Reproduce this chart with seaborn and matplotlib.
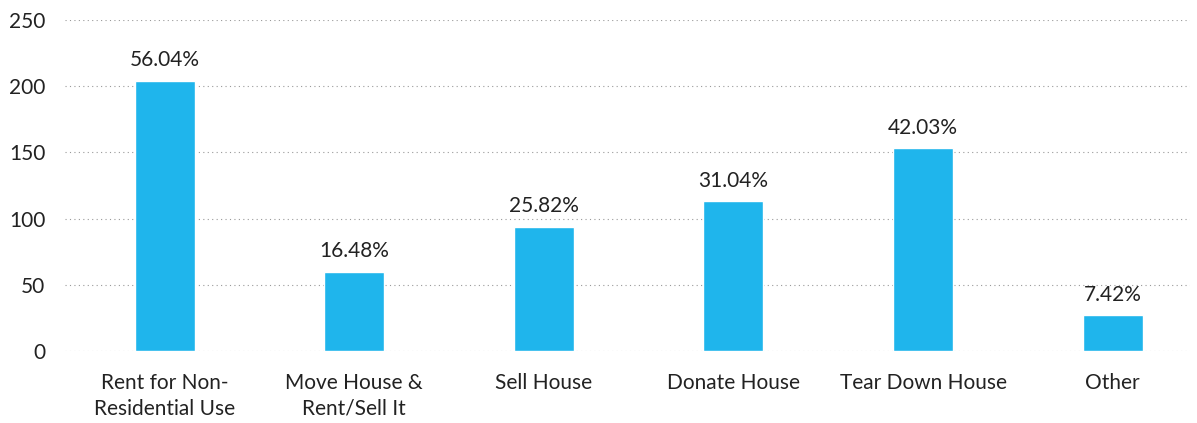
import matplotlib
matplotlib.use('Agg')
import matplotlib.pyplot as plt
import seaborn as sns
import pandas as pd

categories = ['Rent for Non-\nResidential Use', 'Move House &\nRent/Sell It', 'Sell House',
              'Donate House', 'Tear Down House', 'Other']
counts = [204, 60, 94, 113, 153, 27]
total = 364
pct_labels = ['56.04%', '16.48%', '25.82%', '31.04%', '42.03%', '7.42%']

sns.set_style('white')
plt.rcParams['font.family'] = ['Lato', 'DejaVu Sans']

df = pd.DataFrame({'cat': categories, 'n': counts})

fig = plt.figure(figsize=(11.97, 4.23), dpi=100)
ax = fig.add_axes([0.054, 0.170, 0.940, 0.783])
sns.barplot(data=df, x='cat', y='n', color='#1fb5ec', saturation=1, width=0.316, ax=ax, zorder=3)

for i, (v, lab) in enumerate(zip(counts, pct_labels)):
    ax.text(i, v + 8, lab, ha='center', va='bottom', fontsize=15, color='#222222')

ax.set_ylim(0, 250)
ax.set_yticks(range(0, 251, 50))
ax.set_xlim(-0.527, 5.407)
ax.yaxis.grid(True, linestyle=(0, (1, 3)), color='#999999', linewidth=0.8, zorder=0)
ax.set_xlabel('')
ax.set_ylabel('')
for s in ax.spines.values():
    s.set_visible(False)
ax.tick_params(axis='both', length=0, labelsize=15, colors='#222222')
ax.tick_params(axis='x', pad=16)
ax.tick_params(axis='y', pad=14)
for t in ax.get_xticklabels():
    t.set_linespacing(1.35)

fig.savefig('out.png', dpi=100)
